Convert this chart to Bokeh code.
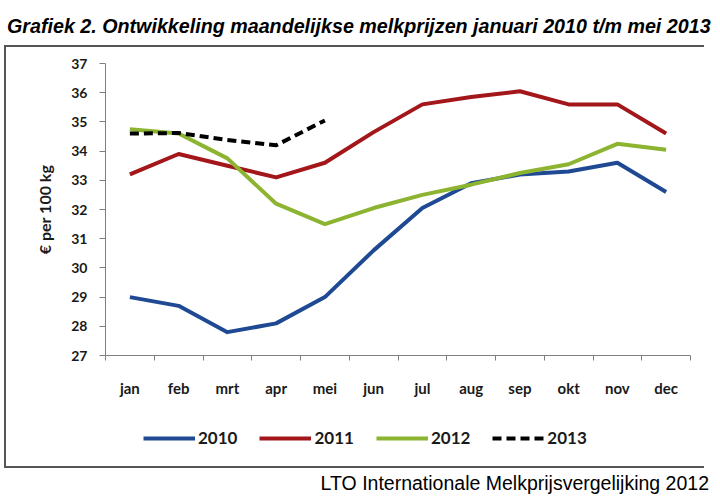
from bokeh.plotting import figure
from bokeh.models import Range1d, FixedTicker, Legend, LegendItem, Div
from bokeh.layouts import column
from bokeh.embed import file_html
from bokeh.resources import INLINE

months = ["jan", "feb", "mrt", "apr", "mei", "jun", "jul", "aug", "sep", "okt", "nov", "dec"]
years = ["2010", "2011", "2012", "2013"]
p2010 = [29.0, 28.7, 27.8, 28.1, 29.0, 30.6, 32.05, 32.9, 33.2, 33.3, 33.6, 32.6]
p2011 = [33.2, 33.9, 33.5, 33.1, 33.6, 34.65, 35.6, 35.85, 36.05, 35.6, 35.6, 34.6]
p2012 = [34.75, 34.6, 33.75, 32.2, 31.5, 32.05, 32.5, 32.85, 33.25, 33.55, 34.25, 34.05]
p2013 = [34.6, 34.62, 34.38, 34.2, 35.05]
y_ticks = list(range(27, 38))

title_text = "Grafiek 2. Ontwikkeling maandelijkse melkprijzen januari 2010 t/m mei 2013"
footer_text = "LTO Internationale Melkprijsvergelijking 2012"
y_label = "\u20ac per 100 kg"

colors = ["#1F4A93", "#A3161A", "#8CB431", "#000000"]
dashes = ["solid", "solid", "solid", "9 5"]
FONT = "Lato"

title_div = Div(text='<div style="margin-top:10px;margin-left:2px;line-height:22px">' + title_text + '</div>',
                width=704, height=35,
                styles={"font-family": "Liberation Sans", "font-weight": "bold",
                        "font-style": "italic", "font-size": "19.7px",
                        "color": "#000000", "white-space": "nowrap"})

p = figure(width=704, height=365, output_backend="svg", toolbar_location=None,
           x_range=Range1d(0, len(months)), y_range=Range1d(y_ticks[0], y_ticks[-1]),
           min_border_left=105, min_border_right=14, min_border_top=18, min_border_bottom=55)
p.outline_line_color = None
p.xgrid.visible = False
p.ygrid.visible = False
p.background_fill_color = "white"
p.border_fill_color = None

centers = [i + 0.5 for i in range(len(months))]
bounds = [float(i) for i in range(len(months) + 1)]

xa = p.xaxis[0]
xa.ticker = FixedTicker(ticks=centers, minor_ticks=bounds)
xa.major_label_overrides = {c: m for c, m in zip(centers, months)}
xa.major_tick_line_color = None
xa.major_tick_out = 0
xa.major_tick_in = 0
xa.minor_tick_out = 5
xa.minor_tick_in = 0
xa.minor_tick_line_color = "#7f7f7f"
xa.axis_line_color = "#7f7f7f"
xa.major_label_standoff = 18
xa.major_label_text_font = FONT
xa.major_label_text_font_style = "bold"
xa.major_label_text_font_size = "15px"
xa.major_label_text_color = "#1a1a1a"

ya = p.yaxis[0]
ya.ticker = FixedTicker(ticks=y_ticks)
ya.minor_tick_line_color = None
ya.major_tick_out = 6
ya.major_tick_in = 0
ya.major_tick_line_color = "#7f7f7f"
ya.axis_line_color = "#7f7f7f"
ya.major_label_standoff = 12
ya.major_label_text_font = FONT
ya.major_label_text_font_style = "bold"
ya.major_label_text_font_size = "14px"
ya.major_label_text_color = "#1a1a1a"
ya.axis_label = y_label
ya.axis_label_standoff = 14
ya.axis_label_text_font = FONT
ya.axis_label_text_font_style = "bold"
ya.axis_label_text_font_size = "16px"
ya.axis_label_text_color = "#1a1a1a"

series = [p2010, p2011, p2012, p2013]
for yr, vals, col, dash in zip(years, series, colors, dashes):
    p.line(centers[:len(vals)], vals, line_width=4, line_color=col, line_dash=dash, line_join="round")

# legend strip: its own small figure inside the same framed box.
# Its lines carry the same series but lie outside its visible range; only the legend shows.
lf = figure(width=704, height=58, output_backend="svg", toolbar_location=None,
            x_axis_location=None, y_axis_location=None,
            x_range=Range1d(0, 1), y_range=Range1d(0, 1),
            min_border_left=0, min_border_right=0, min_border_top=0, min_border_bottom=0)
lf.grid.visible = False
lf.outline_line_color = None
lf.background_fill_alpha = 0
lf.border_fill_color = None
items = []
for yr, vals, col, dash in zip(years, series, colors, dashes):
    r = lf.line(centers[:len(vals)], vals, line_width=4, line_color=col, line_dash=dash)
    items.append(LegendItem(label=yr, renderers=[r]))
legend = Legend(items=items, orientation="horizontal", location=(38, 20))
legend.background_fill_alpha = 0
legend.border_line_color = None
legend.glyph_width = 52
legend.glyph_height = 20
legend.label_standoff = 3
legend.spacing = 22
legend.padding = 0
legend.margin = 0
legend.label_text_font = FONT
legend.label_text_font_style = "bold"
legend.label_text_font_size = "17px"
legend.label_text_color = "#1a1a1a"
lf.add_layout(legend)

box = column(p, lf, spacing=0)
box.styles = {
    "background-image": "linear-gradient(#555555, #555555), linear-gradient(#555555, #555555), "
                        "linear-gradient(#555555, #555555)",
    "background-size": "2px 100%, 100% 2px, 100% 2px",
    "background-position": "4px 0px, 4px 0px, 4px 100%",
    "background-repeat": "no-repeat",
}

footer_div = Div(text=footer_text, width=704, height=23,
                 styles={"font-family": "Liberation Sans", "font-size": "19.5px",
                         "line-height": "20px", "text-align": "right",
                         "color": "#000000", "white-space": "nowrap"})

layout = column(title_div, box, footer_div, spacing=0)
open("out.html", "w").write(file_html(layout, INLINE))
